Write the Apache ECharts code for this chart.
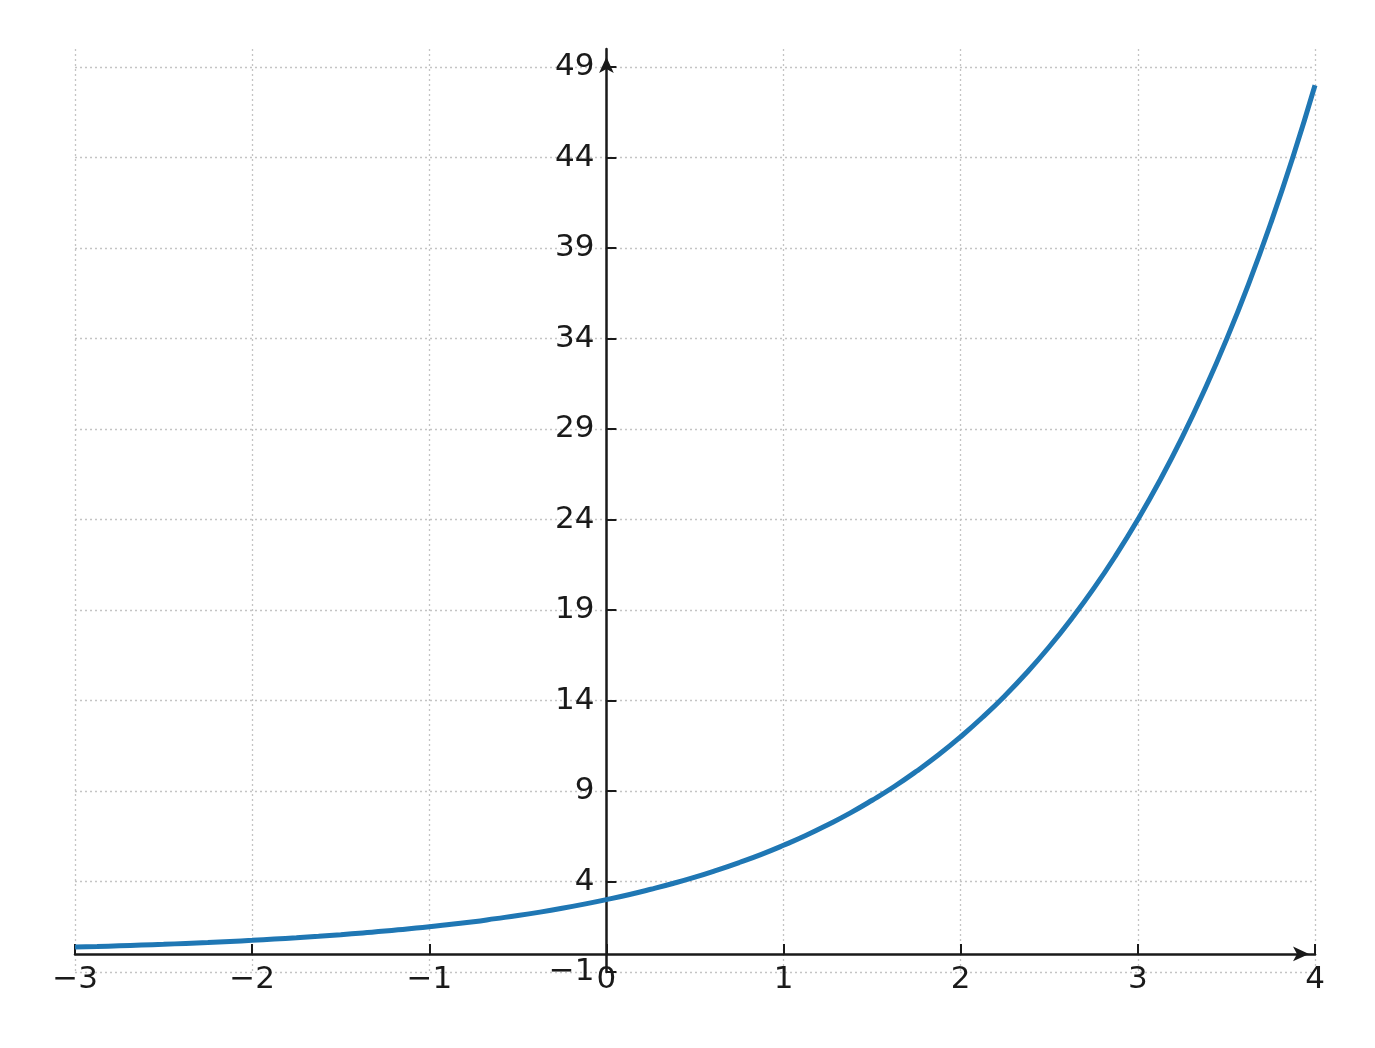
<!DOCTYPE html>
<html lang="en">
<head>
    <meta charset="utf-8">
    <title>Exponential curve</title>
    <script src="https://cdn.jsdelivr.net/npm/echarts@6.0.0/dist/echarts.min.js"></script>
    <style>
        html, body { margin: 0; padding: 0; background: #fff; }
        #chart { width: 1375px; height: 1048px; }
    </style>
</head>
<body>
<div id="chart"></div>
<script>
    // values
    var xValues = [-3, -2.875, -2.75, -2.625, -2.5, -2.375, -2.25, -2.125,
        -2, -1.875, -1.75, -1.625, -1.5, -1.375, -1.25, -1.125,
        -1, -0.875, -0.75, -0.625, -0.5, -0.375, -0.25, -0.125,
        0, 0.125, 0.25, 0.375, 0.5, 0.625, 0.75, 0.875,
        1, 1.125, 1.25, 1.375, 1.5, 1.625, 1.75, 1.875,
        2, 2.125, 2.25, 2.375, 2.5, 2.625, 2.75, 2.875,
        3, 3.125, 3.25, 3.375, 3.5, 3.625, 3.75, 3.875, 4];
    var yValues = [0.38, 0.41, 0.45, 0.49, 0.53, 0.58, 0.63, 0.69,
        0.75, 0.82, 0.89, 0.97, 1.06, 1.16, 1.26, 1.38,
        1.5, 1.64, 1.78, 1.95, 2.12, 2.31, 2.52, 2.75,
        3.0, 3.27, 3.57, 3.89, 4.24, 4.63, 5.05, 5.5,
        6.0, 6.54, 7.14, 7.78, 8.49, 9.25, 10.09, 11.0,
        12.0, 13.09, 14.27, 15.56, 16.97, 18.51, 20.18, 22.01,
        24.0, 26.17, 28.54, 31.13, 33.94, 37.01, 40.37, 44.02, 48.0];
    var xTicks = [-3, -2, -1, 0, 1, 2, 3, 4];
    var yTicks = [-1, 4, 9, 14, 19, 24, 29, 34, 39, 44, 49];
    var yMin = -1, yMax = 50;

    var ink = '#1a1a1a';
    var minus = function (v) { return String(v).replace('-', '\u2212'); };

    var W = 1375, H = 1048;
    var grid = { left: 75, right: 60, top: 49, bottom: 76 };
    var xMin = xTicks[0], xMax = xTicks[xTicks.length - 1];
    // put the axes through the origin, labels included
    var yAxisOffset = -(0 - xMin) / (xMax - xMin) * (W - grid.left - grid.right);
    var xAxisOffset = -(0 - yMin) / (yMax - yMin) * (H - grid.top - grid.bottom);

    var chart = echarts.init(document.getElementById('chart'));
    var option = {
        animation: false,
        textStyle: { fontFamily: 'DejaVu Sans' },
        grid: { left: grid.left, right: grid.right, top: grid.top, bottom: grid.bottom, outerBoundsMode: 'none' },
        xAxis: {
            type: 'value',
            min: xMin,
            max: xMax,
            interval: 1,
            offset: xAxisOffset,
            axisLine: {
                onZero: false,
                lineStyle: { color: ink, width: 2.5 },
                symbol: ['none', 'arrow'],
                symbolSize: [11, 16],
                symbolOffset: [0, -6]
            },
            axisTick: { inside: true, length: 10, lineStyle: { color: ink, width: 2 } },
            axisLabel: { color: ink, fontSize: 31, margin: 11, formatter: minus },
            splitLine: { show: true, lineStyle: { color: '#c4c4c4', width: 1.3, type: [2, 3] } }
        },
        yAxis: {
            type: 'value',
            min: yMin,
            max: yMax,
            offset: yAxisOffset,
            axisLine: {
                onZero: false,
                lineStyle: { color: ink, width: 2.5 },
                symbol: ['none', 'arrow'],
                symbolSize: [11, 16],
                symbolOffset: [0, -8]
            },
            axisTick: { inside: true, length: 10, customValues: yTicks, lineStyle: { color: ink, width: 2 } },
            axisLabel: { color: ink, fontSize: 31, margin: 12, padding: [6, 0, 0, 0], customValues: yTicks, formatter: minus },
            splitLine: { show: true, lineStyle: { color: '#c4c4c4', width: 1.3, type: [2, 3] } }
        },
        series: [{
            type: 'line',
            smooth: true,
            showSymbol: false,
            lineStyle: { color: '#1f77b4', width: 5 },
            data: xValues.map(function (x, i) { return [x, yValues[i]]; })
        }]
    };
    chart.setOption(option);
</script>
</body>
</html>
